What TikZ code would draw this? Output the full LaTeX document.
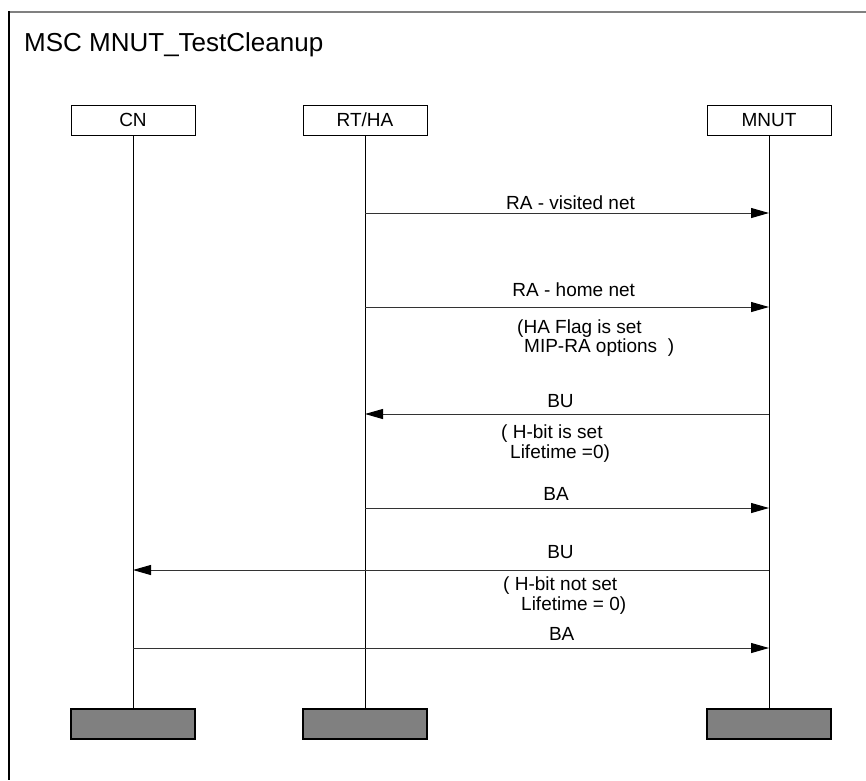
\documentclass[tikz,border=0pt]{standalone}
\usepackage{fontspec}
\setmainfont{Liberation Sans}
\usetikzlibrary{arrows.meta}
\begin{document}
\begin{tikzpicture}[x=1pt,y=-1pt,
  headbox/.style={draw=black,line width=1pt,minimum width=124pt,minimum height=30pt,inner sep=0pt,font=\fontsize{19}{22}\selectfont},
  endbox/.style={draw=black,line width=1.3pt,fill=gray,minimum width=124pt,minimum height=30pt,inner sep=0pt},
  lifeline/.style={draw=black,line width=0.9pt},
  msg/.style={draw=black!80,line width=1pt,-{Triangle[length=18pt,width=10pt,fill=black,color=black]}},
  lbl/.style={inner sep=0pt,anchor=base,font=\fontsize{19}{22}\selectfont},
  note/.style={inner sep=0pt,anchor=base west,font=\fontsize{19}{22}\selectfont}]
\useasboundingbox (0,0) rectangle (866,780);
% frame
\draw[gray,line width=2pt] (9,11.5) -- (866,11.5);
\draw[black,line width=1.5pt] (9,11) -- (9,780);
\node[inner sep=0pt,anchor=base west,font=\fontsize{26}{30}\selectfont] (title) at (24,51) {MSC MNUT\_TestCleanup};
% instances
\node[headbox] (cnh) at (133,120) {CN};
\node[headbox] (rth) at (365,120) {RT/HA};
\node[headbox] (mnh) at (769,120) {MNUT};
\node[endbox] (cnb) at (133,724) {};
\node[endbox] (rtb) at (365,724) {};
\node[endbox] (mnb) at (769,724) {};
\draw[lifeline] (cnh.south) -- (cnb.north);
\draw[lifeline] (rth.south) -- (rtb.north);
\draw[lifeline] (mnh.south) -- (mnb.north);
% message points
\coordinate (a1) at (365,213); \coordinate (b1) at (769,213);
\coordinate (a2) at (365,307); \coordinate (b2) at (769,307);
\coordinate (a3) at (365,414); \coordinate (b3) at (769,414);
\coordinate (a4) at (365,508); \coordinate (b4) at (769,508);
\coordinate (a5) at (133,570); \coordinate (b5) at (769,570);
\coordinate (a6) at (133,648); \coordinate (b6) at (769,648);
\draw[msg] (a1) -- (b1);
\draw[msg] (a2) -- (b2);
\draw[msg] (b3) -- (a3);
\draw[msg] (a4) -- (b4);
\draw[msg] (b5) -- (a5);
\draw[msg] (a6) -- (b6);
% labels
\node[lbl] (l1) at (570.5,209) {RA - visited net};
\node[lbl] (l2) at (573.7,296) {RA - home net};
\node[note] (n2a) at (517,333) {(HA Flag is set};
\node[note] (n2b) at (524,352) {MIP-RA options\ \ )};
\node[lbl] (l3) at (560.5,407) {BU};
\node[note] (n3a) at (501,438) {(\ H-bit is set};
\node[note] (n3b) at (510,458) {Lifetime =0)};
\node[lbl] (l4) at (556,500) {BA};
\node[lbl] (l5) at (560.5,558) {BU};
\node[note] (n5a) at (503,590) {(\ H-bit not set};
\node[note] (n5b) at (521,610) {Lifetime = 0)};
\node[lbl] (l6) at (561.7,640) {BA};
\end{tikzpicture}
\end{document}
